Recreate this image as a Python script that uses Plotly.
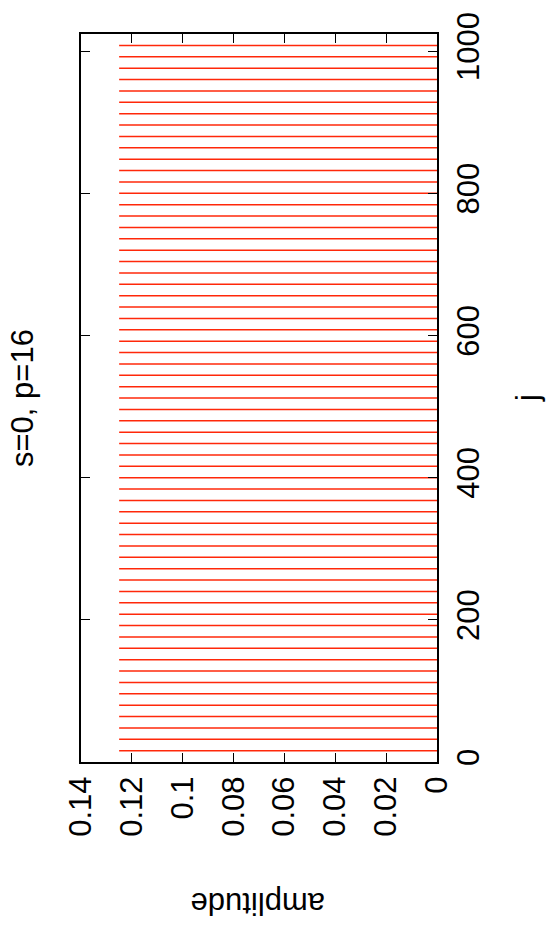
import plotly.graph_objects as go

# data
j_positions = [16, 32, 48, 64, 80, 96, 112, 128, 144, 160, 176, 192, 208, 224, 240, 256,
               272, 288, 304, 320, 336, 352, 368, 384, 400, 416, 432, 448, 464, 480, 496, 512,
               528, 544, 560, 576, 592, 608, 624, 640, 656, 672, 688, 704, 720, 736, 752, 768,
               784, 800, 816, 832, 848, 864, 880, 896, 912, 928, 944, 960, 976, 992, 1008]
amplitudes = [0.125] * len(j_positions)

amp_ticks = [0, 0.02, 0.04, 0.06, 0.08, 0.1, 0.12, 0.14]
amp_ticktext = ["0", "0.02", "0.04", "0.06", "0.08", "0.1", "0.12", "0.14"]
j_ticks = [0, 200, 400, 600, 800, 1000]
j_ticktext = ["0", "200", "400", "600", "800", "1000"]

title_text = "s=0, p=16"
xlabel_text = "j"
ylabel_text = "amplitude"

xs, ys = [], []
for jv, a in zip(j_positions, amplitudes):
    xs += [0, a, None]
    ys += [jv, jv, None]

FONT = "Liberation Sans, Arial, Helvetica, sans-serif"
FS = 31

fig = go.Figure()
fig.add_trace(go.Scatter(x=xs, y=ys, mode="lines",
                         line=dict(color="rgb(255,40,10)", width=1.5),
                         hoverinfo="skip", showlegend=False))

L, R, T, B = 81, 437, 25, 762
W, H = 550, 937

fig.update_layout(
    width=W, height=H,
    margin=dict(l=L, r=W - R, t=T, b=H - B, pad=0),
    paper_bgcolor="white", plot_bgcolor="white",
    font=dict(family=FONT, size=FS, color="black"),
    showlegend=False,
    xaxis=dict(range=[0.14, 0], tickvals=amp_ticks, ticktext=amp_ticktext,
               ticks="inside", ticklen=9, tickwidth=1, tickcolor="black",
               showline=True, linecolor="black", linewidth=2, mirror="ticks",
               showgrid=False, zeroline=False, tickangle=-90,
               tickfont=dict(family=FONT, size=FS, color="black"),
               ticklabelstandoff=0, fixedrange=True),
    yaxis=dict(range=[0, 1024], tickvals=j_ticks, ticktext=j_ticktext, side="right",
               ticks="inside", ticklen=9, tickwidth=1, tickcolor="black",
               showline=True, linecolor="black", linewidth=2, mirror="ticks",
               showgrid=False, zeroline=False, tickangle=-90,
               tickfont=dict(family=FONT, size=FS, color="black"),
               ticklabelstandoff=3, fixedrange=True),
)

def px_x(p):
    return (p - L) / (R - L)

def px_y(p):
    return (B - p) / (B - T)

fig.add_annotation(text=title_text, xref="paper", yref="paper",
                   x=px_x(22), y=px_y(393.5), textangle=-90,
                   xanchor="center", yanchor="middle", showarrow=False,
                   font=dict(family=FONT, size=FS, color="black"))
fig.add_annotation(text=ylabel_text, xref="paper", yref="paper",
                   x=px_x(258.5), y=px_y(905), textangle=180,
                   xanchor="center", yanchor="middle", showarrow=False,
                   font=dict(family=FONT, size=FS, color="black"))
fig.add_annotation(text=xlabel_text, xref="paper", yref="paper",
                   x=px_x(527), y=px_y(393.5), textangle=-90,
                   xanchor="center", yanchor="middle", showarrow=False,
                   font=dict(family=FONT, size=FS, color="black"))

fig.write_html("out.html")
